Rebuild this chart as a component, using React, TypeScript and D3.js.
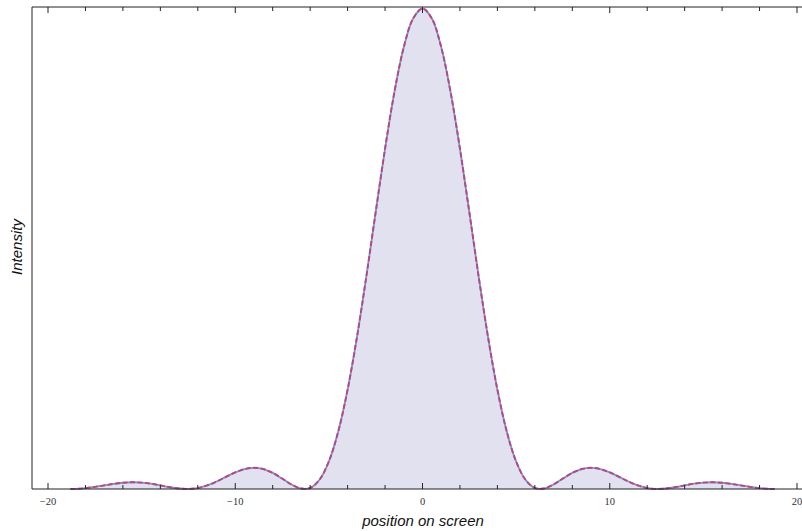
import React from "react";
import * as d3 from "d3";

// position on screen (x) and relative intensity
const positions = [
  -18.8, -18.5, -18, -17.5, -17, -16.5, -16, -15.5, -15, -14.5, -14, -13.5, -13, -12.5, -12,
  -11.5, -11, -10.5, -10, -9.5, -9, -8.5, -8, -7.5, -7, -6.5, -6, -5.5, -5, -4.5, -4, -3.5,
  -3, -2.5, -2, -1.5, -1, -0.5, 0, 0.5, 1, 1.5, 2, 2.5, 3, 3.5, 4, 4.5, 5, 5.5, 6, 6.5, 7,
  7.5, 8, 8.5, 9, 9.5, 10, 10.5, 11, 11.5, 12, 12.5, 13, 13.5, 14, 14.5, 15, 15.5, 16, 16.5,
  17, 17.5, 18, 18.5, 18.8,
];
const intensity = [
  0, 0.0003, 0.0018, 0.0044, 0.0075, 0.0106, 0.013, 0.014, 0.0133, 0.011, 0.0075, 0.0038, 0.001,
  0.0001, 0.002, 0.0074, 0.0155, 0.0252, 0.0345, 0.0415, 0.0441, 0.0416, 0.0336, 0.0218, 0.0094,
  0.0011, 0.0022, 0.0193, 0.0573, 0.1196, 0.2067, 0.3162, 0.4422, 0.5764, 0.7081, 0.8261, 0.9194,
  0.9793, 1, 0.9793, 0.9194, 0.8261, 0.7081, 0.5764, 0.4422, 0.3162, 0.2067, 0.1196, 0.0573,
  0.0193, 0.0022, 0.0011, 0.0094, 0.0218, 0.0336, 0.0416, 0.0441, 0.0415, 0.0345, 0.0252, 0.0155,
  0.0074, 0.002, 0.0001, 0.001, 0.0038, 0.0075, 0.011, 0.0133, 0.014, 0.013, 0.0106, 0.0075,
  0.0044, 0.0018, 0.0003, 0,
];
const majorTicks = [-20, -10, 0, 10, 20];
const minorTicks = [-18, -16, -14, -12, -8, -6, -4, -2, 2, 4, 6, 8, 12, 14, 16, 18];

const W = 802;
const H = 531;

export default function App() {
  const left = 32, top = 7, bottom = 489;
  const x = d3.scaleLinear().domain([-20, 20]).range([48, 797]);
  const y = d3.scaleLinear().domain([0, 1]).range([bottom, 8.5]);

  const pts = positions.map((p, i) => [p, intensity[i]] as [number, number]);
  const line = d3.line<[number, number]>()
    .x(d => x(d[0]))
    .y(d => y(d[1]))
    .curve(d3.curveCatmullRom);
  const area = d3.area<[number, number]>()
    .x(d => x(d[0]))
    .y0(y(0))
    .y1(d => y(d[1]))
    .curve(d3.curveCatmullRom);

  const fmt = (v: number) => (v < 0 ? "\u2212" + Math.abs(v) : String(v));

  return (
    <svg width={W} height={H} style={{ position: "absolute", left: 0, top: 0 }}>
      <rect width={W} height={H} fill="#fff" />
      <path d={area(pts) || ""} fill="#e1e1ef" />
      <path d={line(pts) || ""} fill="none" stroke="#7f8fcc" strokeWidth={1.8} />
      <path d={line(pts) || ""} fill="none" stroke="#b8467f" strokeWidth={1.9} strokeDasharray="5,2.5" />

      {/* frame */}
      <line x1={left} x2={W} y1={top} y2={top} stroke="#222" strokeWidth={1} />
      <line x1={left} x2={W} y1={bottom} y2={bottom} stroke="#222" strokeWidth={1} />
      <line x1={left} x2={left} y1={top} y2={bottom} stroke="#222" strokeWidth={1} />

      {majorTicks.map(t => (
        <g key={"M" + t}>
          <line x1={x(t)} x2={x(t)} y1={bottom} y2={bottom - 6} stroke="#222" />
          <line x1={x(t)} x2={x(t)} y1={top} y2={top + 6} stroke="#222" />
          <text x={x(t)} y={505} textAnchor="middle" fontFamily="'Liberation Serif', serif" fontSize={10.5} fill="#333">
            {fmt(t)}
          </text>
        </g>
      ))}
      {minorTicks.map(t => (
        <g key={"m" + t}>
          <line x1={x(t)} x2={x(t)} y1={bottom} y2={bottom - 4} stroke="#222" />
          <line x1={x(t)} x2={x(t)} y1={top} y2={top + 4} stroke="#222" />
        </g>
      ))}

      <text x={423} y={526} textAnchor="middle" fontFamily="'Liberation Sans', Arial, sans-serif" fontStyle="italic" fontSize={15} fill="#111">
        position on screen
      </text>
      <text transform="translate(22,247) rotate(-90)" textAnchor="middle" fontFamily="'Liberation Sans', Arial, sans-serif" fontStyle="italic" fontSize={15} fill="#111">
        Intensity
      </text>
    </svg>
  );
}
